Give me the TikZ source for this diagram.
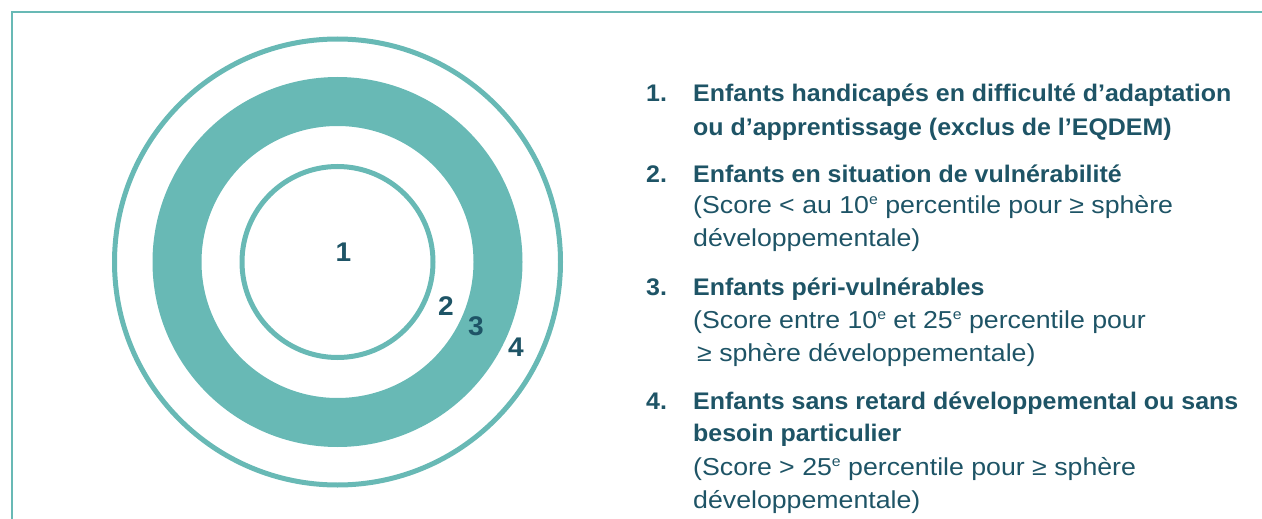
\documentclass[tikz,border=0pt]{standalone}
\usepackage{fontspec}
\setmainfont{Liberation Sans}
\newfontfamily\headfont[FakeStretch=1.04]{Liberation Sans}
\newfontfamily\bodyfont[FakeStretch=1.09]{Liberation Sans}
\definecolor{ringteal}{RGB}{104,185,181}
\definecolor{ink}{RGB}{30,84,102}
% ordinal "e", small and raised to cap height
\newcommand\ordE{\raisebox{9pt}{\fontsize{14.5}{15}\selectfont e}}
\tikzset{
  ring/.style={draw=ringteal, line width=5pt},
  frameline/.style={draw=ringteal, line width=2.5pt},
  num/.style={anchor=base west, inner sep=0pt, text=ink, font=\headfont\bfseries\fontsize{24}{28}\selectfont},
  head/.style={anchor=base west, inner sep=0pt, text=ink, font=\headfont\bfseries\fontsize{24}{28}\selectfont},
  body/.style={anchor=base west, inner sep=0pt, text=ink, font=\bodyfont\fontsize{24.5}{28}\selectfont},
  zone/.style={inner sep=0pt, text=ink, font=\headfont\bfseries\fontsize{27}{30}\selectfont}
}
\begin{document}
\begin{tikzpicture}[x=1pt,y=-1pt]
\useasboundingbox (0,0) rectangle (1262,519);
% frame (top and left edges)
\coordinate (ftr) at (1262,12);
\coordinate (ftl) at (12,12);
\coordinate (fbl) at (12,519);
\draw[frameline] (ftr) -- (ftl) -- (fbl);
% concentric zones
\coordinate (c) at (337.5,262);
\fill[ringteal, even odd rule] (c) circle[radius=185] (c) circle[radius=136];
\draw[ring] (c) circle[radius=223];
\draw[ring] (c) circle[radius=95.5];
\node[zone] (z1) at (343.5,252) {1};
\node[zone] (z2) at (446,306) {2};
\node[zone] (z3) at (476,326) {3};
\node[zone] (z4) at (516,347) {4};
% legend
\node[num]  (n1) at (646,101.7) {1.};
\node[head] (h1a) at (693,101.7) {Enfants handicapés en difficulté d’adaptation};
\node[head] (h1b) at (693,135.5) {ou d’apprentissage (exclus de l’EQDEM)};
\node[num]  (n2) at (646,182) {2.};
\node[head] (h2) at (693,182) {Enfants en situation de vulnérabilité};
\node[body] (b2a) at (693,213.5) {(Score < au 10\ordE{} percentile pour ≥ sphère};
\node[body] (b2b) at (693,246) {développementale)};
\node[num]  (n3) at (646,295) {3.};
\node[head] (h3) at (693,295) {Enfants péri-vulnérables};
\node[body] (b3a) at (693,328.5) {(Score entre 10\ordE{} et 25\ordE{} percentile pour};
\node[body] (b3b) at (697,361) {≥ sphère développementale)};
\node[num]  (n4) at (646,409) {4.};
\node[head] (h4a) at (693,409) {Enfants sans retard développemental ou sans};
\node[head] (h4b) at (693,441.5) {besoin particulier};
\node[body] (b4a) at (693,475) {(Score > 25\ordE{} percentile pour ≥ sphère};
\node[body] (b4b) at (693,508.5) {développementale)};
\end{tikzpicture}
\end{document}
